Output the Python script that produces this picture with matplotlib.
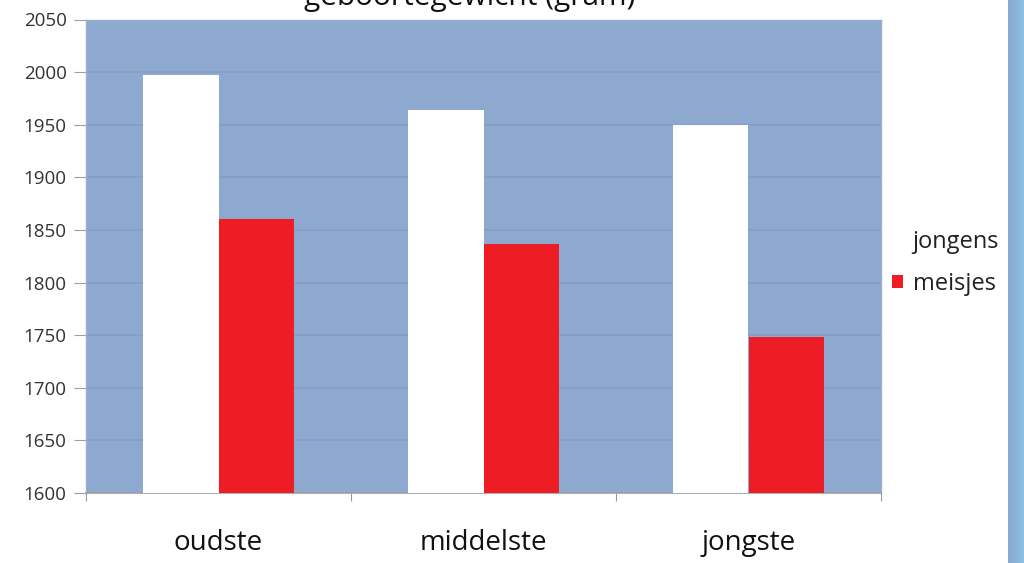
import numpy as np
import matplotlib
matplotlib.use("Agg")
import matplotlib.pyplot as plt
import matplotlib.transforms as mtransforms
from matplotlib.colors import LinearSegmentedColormap

categories = ["oudste", "middelste", "jongste"]
series_names = ["jongens", "meisjes"]
jongens = [1997, 1964, 1950]
meisjes = [1860, 1837, 1748]
yticks = [1600, 1650, 1700, 1750, 1800, 1850, 1900, 1950, 2000, 2050]
title = "geboortegewicht (gram)"

plt.rcParams['font.family'] = ['Open Sans', 'DejaVu Sans']

W, H = 1024, 563
fig = plt.figure(figsize=(W/100, H/100), dpi=100)
fig.patch.set_facecolor('white')
ax = fig.add_axes([86/W, 1 - 493/H, (881-86)/W, (493-19.5)/H])
ax.set_facecolor('#8DA9CF')

x = np.arange(len(categories))
w = 0.285
ax.bar(x - w/2, jongens, width=w, color='white', label=series_names[0], zorder=3)
ax.bar(x + w/2, meisjes, width=w, color='#EE1C25', label=series_names[1], zorder=3)

ax.set_ylim(1600, 2050)
ax.set_xlim(-0.5, len(categories) - 0.5)
ax.set_yticks(yticks)
ax.yaxis.grid(True, color='#839DC2', linewidth=1.1, zorder=1)
ax.set_axisbelow(True)

ax.set_xticks(np.arange(len(categories) + 1) - 0.5)
ax.set_xticklabels([])
ax.tick_params(axis='x', which='major', length=6, color='#9a9a9a', direction='out')
ax.tick_params(axis='y', length=9, color='#a0a0a0', labelsize=13.5, labelcolor='#333333', pad=5)

# category labels: x in data, baseline fixed in figure pixels
trans = mtransforms.blended_transform_factory(ax.transData, fig.transFigure)
for xi, c in zip(x, categories):
    ax.text(xi, 1 - 550/H, c, transform=trans, ha='center', va='baseline',
            fontsize=20, color='#111111', clip_on=False)

for s in ['top', 'right', 'left']:
    ax.spines[s].set_color('#9BB0CF')
    ax.spines[s].set_linewidth(1.0)
ax.spines['bottom'].set_color('#a0a0a0')
ax.spines['bottom'].set_linewidth(1.2)

leg = ax.legend(loc='center left', bbox_to_anchor=(1.014, 0.485), frameon=False,
                fontsize=17, handlelength=0.47, handleheight=0.47, handletextpad=0.4,
                labelspacing=0.75, borderaxespad=0, borderpad=0)
for t in leg.get_texts():
    t.set_color('#222222')

# title, mostly cut off at top of image (as in the source image)
fig.text(470/W, 1 - 5/H, title, ha='center', va='baseline', fontsize=21.5, color='#111111')

# blue strip at right edge
grad = np.linspace(0, 1, 50).reshape(1, -1)
cmap = LinearSegmentedColormap.from_list('strip', ['#8AA9D0', '#88C2E2'])
sax = fig.add_axes([1008/W, 0, 16/W, 1])
sax.imshow(grad, aspect='auto', cmap=cmap, extent=[0, 1, 0, 1])
sax.axis('off')

fig.savefig('out.png', dpi=100)
